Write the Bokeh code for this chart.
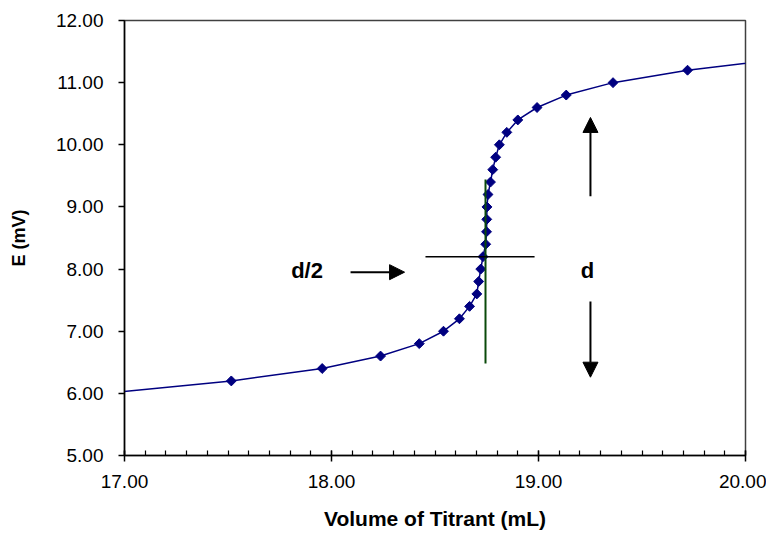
from bokeh.plotting import figure
from bokeh.models import Range1d, FixedTicker, NumeralTickFormatter, Arrow, NormalHead, Label
from bokeh.embed import file_html
from bokeh.resources import INLINE

# Titration data (volume in mL, potential in mV)
volume = [16.90, 17.516, 17.955, 18.237, 18.424, 18.541, 18.618, 18.667, 18.702, 18.711,
          18.721, 18.732, 18.745, 18.749, 18.750, 18.751, 18.756, 18.768, 18.779, 18.793,
          18.811, 18.847, 18.900, 18.993, 19.134, 19.360, 19.720, 20.220]
potential = [6.0, 6.2, 6.4, 6.6, 6.8, 7.0, 7.2, 7.4, 7.6, 7.8,
             8.0, 8.2, 8.4, 8.6, 8.8, 9.0, 9.2, 9.4, 9.6, 9.8,
             10.0, 10.2, 10.4, 10.6, 10.8, 11.0, 11.2, 11.4]

x_major_ticks = [17, 18, 19, 20]
y_major_ticks = [5, 6, 7, 8, 9, 10, 11, 12]

# Endpoint construction lines
endpoint_vertical_x = [18.744, 18.744]
endpoint_vertical_y = [6.48, 9.44]
half_height_x = [18.454, 18.981]
half_height_y = [8.2, 8.2]

FONT = "Liberation Sans"

p = figure(width=766, height=534, output_backend="svg", toolbar_location=None,
           x_range=Range1d(17, 20), y_range=Range1d(5, 12),
           min_border_left=124, min_border_right=21, min_border_top=20, min_border_bottom=79,
           background_fill_color="white", border_fill_color="white")

p.xgrid.visible = False
p.ygrid.visible = False
p.outline_line_color = "#404040"
p.outline_line_width = 1.5

# X axis
xa = p.xaxis[0]
xa.ticker = FixedTicker(ticks=x_major_ticks,
                        minor_ticks=[17 + i / 10 for i in range(31)])
xa.formatter = NumeralTickFormatter(format="0.00")
xa.axis_label = "Volume of Titrant (mL)"
xa.axis_label_text_font = FONT
xa.axis_label_text_font_style = "bold"
xa.axis_label_text_font_size = "21px"
xa.axis_label_text_color = "black"
xa.axis_label_standoff = 16
xa.major_label_text_font = FONT
xa.major_label_text_font_size = "19px"
xa.major_label_text_color = "black"
xa.major_label_standoff = 13
xa.major_tick_in = 5
xa.major_tick_out = 6
xa.minor_tick_in = 5
xa.minor_tick_out = 0
xa.axis_line_color = "black"
xa.axis_line_width = 1.5
xa.major_tick_line_color = "black"
xa.major_tick_line_width = 1.5
xa.minor_tick_line_color = "black"
xa.minor_tick_line_width = 1.2

# Y axis
ya = p.yaxis[0]
ya.ticker = FixedTicker(ticks=y_major_ticks, minor_ticks=[])
ya.formatter = NumeralTickFormatter(format="0.00")
ya.axis_label = "E (mV)"
ya.axis_label_text_font = FONT
ya.axis_label_text_font_style = "bold"
ya.axis_label_text_font_size = "18px"
ya.axis_label_text_color = "black"
ya.axis_label_standoff = 24
ya.major_label_text_font = FONT
ya.major_label_text_font_size = "19px"
ya.major_label_text_color = "black"
ya.major_label_standoff = 15
ya.major_tick_in = 0
ya.major_tick_out = 6
ya.minor_tick_in = 0
ya.minor_tick_out = 0
ya.axis_line_color = "black"
ya.axis_line_width = 1.5
ya.major_tick_line_color = "black"
ya.major_tick_line_width = 1.5

# Curve
p.line(volume, potential, line_color="#000080", line_width=1.5)
p.scatter(volume, potential, marker="square", size=7, angle=0.7853981634,
          fill_color="#000080", line_color="#000080")

# Construction lines
p.line(endpoint_vertical_x, endpoint_vertical_y, line_color="#0A4A0A", line_width=2)
p.line(half_height_x, half_height_y, line_color="black", line_width=1.5)

# Arrows
def arrow(x0, y0, x1, y1):
    p.add_layout(Arrow(end=NormalHead(size=15, fill_color="black", line_color="black"),
                       x_start=x0, y_start=y0, x_end=x1, y_end=y1,
                       line_color="black", line_width=2))

arrow(18.092, 7.95, 18.353, 7.95)
arrow(19.251, 9.17, 19.251, 10.44)
arrow(19.251, 7.48, 19.251, 6.26)

p.add_layout(Label(x=17.882, y=7.98, text="d/2", text_font=FONT, text_font_style="bold",
                   text_font_size="22px", text_align="center", text_baseline="middle",
                   text_color="black"))
p.add_layout(Label(x=19.237, y=7.98, text="d", text_font=FONT, text_font_style="bold",
                   text_font_size="22px", text_align="center", text_baseline="middle",
                   text_color="black"))

open("out.html", "w").write(file_html(p, INLINE))
